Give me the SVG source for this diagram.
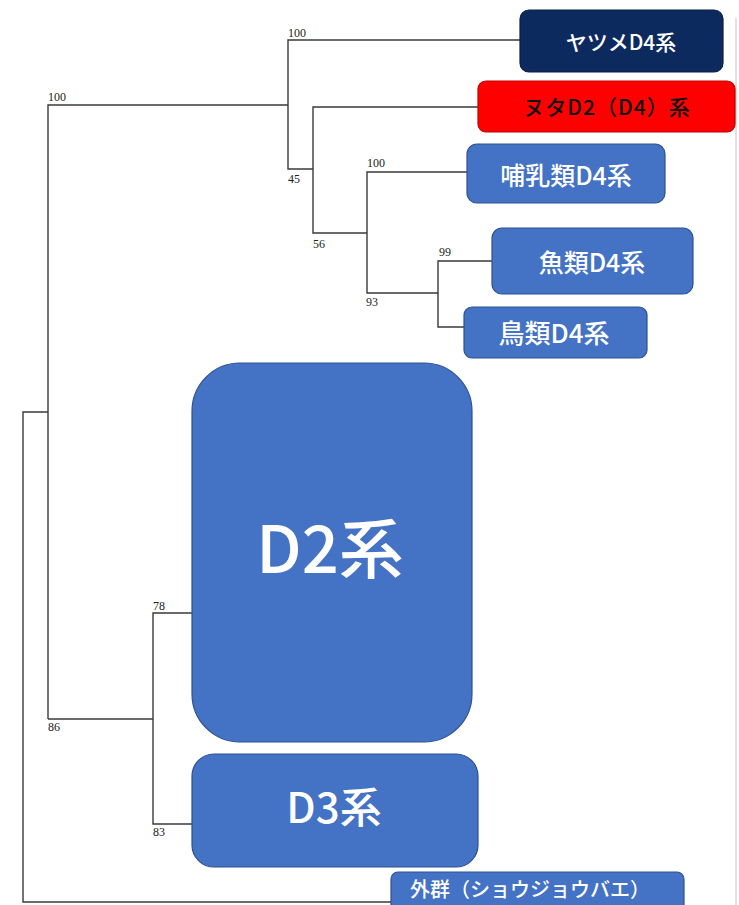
<svg xmlns="http://www.w3.org/2000/svg" width="739" height="905" viewBox="0 0 739 905">
<style>
.br{fill:none;stroke:#3a3a3a;stroke-width:1.4}
.num{font-family:"Liberation Serif",serif;font-size:12px;fill:#222}
.box{fill:#4472c4;stroke:#2f528f;stroke-width:1.2}
.lbl{font-family:"Noto Sans CJK JP","Noto Sans",sans-serif;font-weight:500;fill:#fff;text-anchor:middle}
</style>
<rect x="0" y="0" width="739" height="905" fill="#fff"/>
<line x1="736" y1="18" x2="736" y2="905" stroke="#d8d8d8" stroke-width="1.5"/>
<g id="connectors">
<path class="br" d="M48 719V105H288"/>
<path class="br" d="M520 40H288V169H313"/>
<path class="br" d="M478 107H313V233H367"/>
<path class="br" d="M467 172H367V293H438"/>
<path class="br" d="M492 261H438V327H464"/>
<path class="br" d="M48 412H23V902H391"/>
<path class="br" d="M48 719H153"/>
<path class="br" d="M192 613H153V824H192"/>
</g>
<g id="bootstrap">
<text class="num" x="48" y="101">100</text>
<text class="num" x="288" y="37">100</text>
<text class="num" x="288" y="183">45</text>
<text class="num" x="313" y="248">56</text>
<text class="num" x="367" y="167">100</text>
<text class="num" x="366" y="306">93</text>
<text class="num" x="439" y="256">99</text>
<text class="num" x="153" y="610">78</text>
<text class="num" x="48" y="731">86</text>
<text class="num" x="153" y="836">83</text>
</g>
<g id="node-lamprey">
<rect x="520" y="10" width="203" height="62" rx="9" fill="#0d2a5e" stroke="#0a1f45" stroke-width="1.2"/>
<text class="lbl" x="621" y="50" font-size="21">ヤツメD4系</text>
</g>
<g id="node-hagfish">
<rect x="478" y="81" width="257" height="51" rx="8" fill="#ff0000" stroke="#c00000" stroke-width="1.2"/>
<text class="lbl" x="607" y="115" font-size="21" style="fill:#111" letter-spacing="1">ヌタD2（D4）系</text>
</g>
<g id="node-mammal">
<rect class="box" x="467" y="144" width="198" height="59" rx="10"/>
<text class="lbl" x="566" y="185" font-size="25">哺乳類D4系</text>
</g>
<g id="node-fish">
<rect class="box" x="492" y="228" width="201" height="66" rx="10"/>
<text class="lbl" x="592" y="272" font-size="25">魚類D4系</text>
</g>
<g id="node-bird">
<rect class="box" x="464" y="307" width="183" height="51" rx="8"/>
<text class="lbl" x="554" y="343" font-size="26">鳥類D4系</text>
</g>
<g id="node-d2">
<rect class="box" x="192" y="363" width="280" height="379" rx="48"/>
<text class="lbl" x="330" y="573" font-size="65">D2系</text>
</g>
<g id="node-d3">
<rect class="box" x="192" y="754" width="286" height="113" rx="22"/>
<text class="lbl" x="334" y="823" font-size="42">D3系</text>
</g>
<g id="node-outgroup">
<rect class="box" x="391" y="872" width="293" height="45" rx="7"/>
<text class="lbl" x="410" y="897" font-size="20" style="text-anchor:start">外群（ショウジョウバエ）</text>
</g>
</svg>
